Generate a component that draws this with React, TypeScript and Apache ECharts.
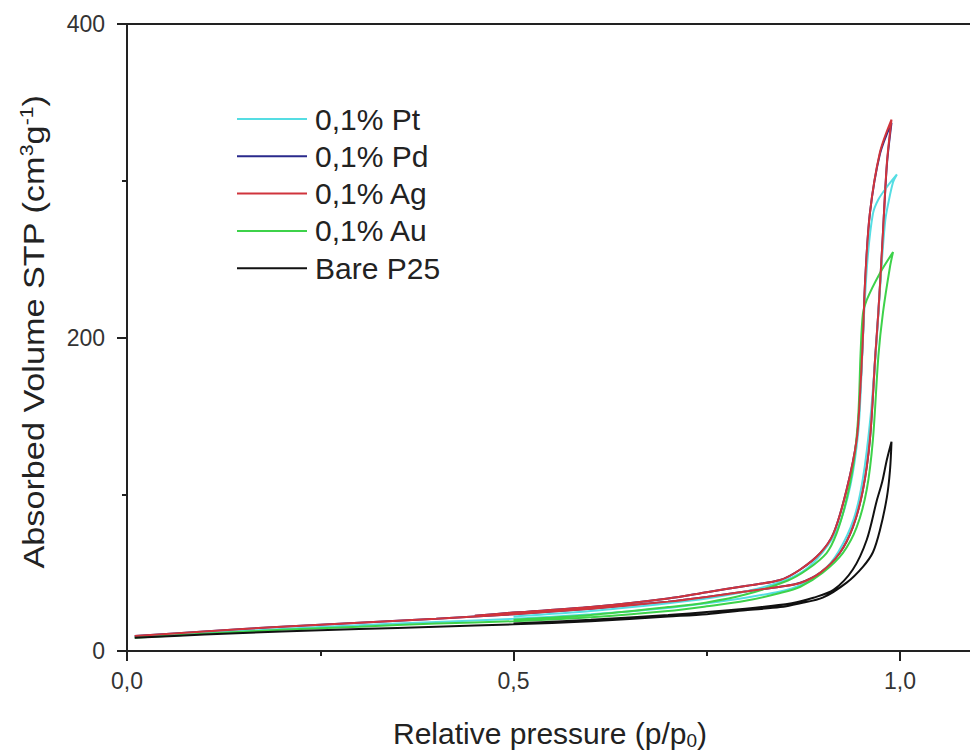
import React, { useEffect, useRef } from "react";
import * as echarts from "echarts";

const seriesNames = ["0,1% Pt", "0,1% Pd", "0,1% Ag", "0,1% Au", "Bare P25"];
const seriesColors = ["#55dde3", "#2a2a8c", "#d0343c", "#3dd24a", "#111111"];

// Each isotherm: adsorption branch up to the peak, then desorption branch back down
const ptData: number[][] = [
  [0.01, 9], [0.1, 11.5], [0.2, 14], [0.3, 16.5], [0.4, 18.5], [0.5, 20.5], [0.6, 23.5], [0.7, 27.5],
  [0.75, 30.5], [0.8, 34], [0.845, 38], [0.871, 42], [0.9, 51], [0.92, 63], [0.94, 84], [0.952, 110],
  [0.962, 150], [0.97, 200], [0.976, 245], [0.981, 275], [0.985, 286], [0.991, 299], [0.996, 304],
  [0.983, 296], [0.972, 288], [0.965, 279], [0.958, 250], [0.953, 210], [0.95, 175], [0.946, 140],
  [0.936, 106], [0.92, 79], [0.9, 63], [0.875, 51], [0.845, 44], [0.8, 38], [0.75, 33.5], [0.7, 30.5],
  [0.6, 25.5], [0.5, 22],
];
const pdData: number[][] = [
  [0.01, 9.5], [0.1, 12.5], [0.2, 15.5], [0.3, 18], [0.4, 20.5], [0.5, 23.5], [0.6, 27], [0.7, 31.5],
  [0.75, 34.5], [0.8, 38], [0.845, 41], [0.871, 43.5], [0.897, 50], [0.922, 62.5], [0.939, 79],
  [0.952, 102.7], [0.961, 134.6], [0.968, 188], [0.972, 216], [0.977, 258], [0.983, 310], [0.989, 337],
  [0.974, 317], [0.961, 279], [0.955, 237], [0.952, 200], [0.949, 170], [0.944, 135], [0.931, 103],
  [0.914, 75], [0.897, 62.5], [0.871, 52], [0.845, 45.3], [0.8, 41.5], [0.75, 37.5], [0.7, 33.5],
  [0.6, 28], [0.5, 24.5], [0.45, 22.5],
];
const agData: number[][] = [
  [0.01, 9.5], [0.1, 12.5], [0.2, 15.5], [0.3, 18], [0.4, 20.5], [0.5, 23.5], [0.6, 27], [0.7, 31.5],
  [0.75, 34.5], [0.8, 38], [0.845, 41], [0.871, 43.4], [0.897, 50], [0.922, 62.5], [0.939, 79],
  [0.952, 102.7], [0.961, 134.6], [0.968, 188], [0.972, 216], [0.977, 258], [0.983, 311], [0.989, 339],
  [0.974, 318], [0.961, 279], [0.955, 237], [0.952, 200], [0.949, 170], [0.944, 135], [0.931, 103],
  [0.914, 75], [0.897, 62.5], [0.871, 52], [0.845, 45.3], [0.8, 41.5], [0.75, 37.5], [0.7, 33.5],
  [0.6, 28], [0.5, 24.5], [0.45, 22.5],
];
const auData: number[][] = [
  [0.01, 8.5], [0.1, 11], [0.2, 13.5], [0.3, 15.5], [0.4, 17.5], [0.5, 19], [0.6, 21.5], [0.7, 25.5],
  [0.75, 28.5], [0.8, 32], [0.845, 37], [0.871, 41], [0.9, 50], [0.926, 62.5], [0.944, 79], [0.957, 103],
  [0.965, 135], [0.972, 188], [0.978, 216], [0.987, 245], [0.991, 254.5],
  [0.974, 241], [0.957, 224], [0.952, 215], [0.949, 190], [0.946, 150], [0.94, 120], [0.93, 95],
  [0.918, 75], [0.905, 62.5], [0.88, 52], [0.855, 45], [0.8, 36], [0.75, 31], [0.7, 28], [0.6, 23],
  [0.5, 20],
];
const bareData: number[][] = [
  [0.01, 8.5], [0.1, 10.5], [0.2, 12.5], [0.3, 14], [0.4, 15.5], [0.5, 17], [0.6, 19], [0.7, 22],
  [0.75, 23.5], [0.8, 26], [0.845, 28], [0.871, 30.5], [0.9, 34], [0.931, 43.6], [0.952, 53.7],
  [0.965, 63], [0.974, 77], [0.983, 98], [0.987, 115], [0.989, 133.5],
  [0.983, 122], [0.977, 108], [0.97, 96], [0.957, 71], [0.939, 52], [0.914, 39], [0.888, 34],
  [0.86, 30.5], [0.8, 27], [0.7, 23], [0.6, 20], [0.5, 17.5],
];

const xTicks = [0, 0.5, 1.0];
const yTicks = [0, 200, 400];

const FONT = "'Liberation Sans', Arial, sans-serif";

export default function App() {
  const ref = useRef<HTMLDivElement>(null);
  useEffect(() => {
    if (!ref.current) return;
    const chart = echarts.init(ref.current, null, { renderer: "svg" });
    const dataSets = [ptData, pdData, agData, auData, bareData];
    const drawOrder = [1, 0, 3, 2, 4];
    const series = drawOrder.map((i, k) => ({
      name: seriesNames[i],
      type: "line",
      data: dataSets[i],
      showSymbol: false,
      symbol: "none",
      smooth: 0.3,
      z: 2 + k,
      lineStyle: { color: seriesColors[i], width: 2 },
      itemStyle: { color: seriesColors[i] },
    }));
    chart.setOption({
      animation: false,
      backgroundColor: "#ffffff",
      textStyle: { fontFamily: FONT },
      // the x axis runs on to 1.5, past the right edge of the visible picture (cut at ~1.09 as in the reference)
      grid: { left: 127, top: 24, width: 1159.5, height: 627 },
      legend: {
        orient: "vertical",
        left: 237,
        top: 104,
        padding: 0,
        itemWidth: 70,
        itemHeight: 14,
        itemGap: 7.3,
        icon: "path://M0,6 L70,6 L70,8 L0,8 Z",
        data: seriesNames,
        textStyle: { fontSize: 30, color: "#222", lineHeight: 30, fontFamily: FONT, padding: [0, 0, 0, 3] },
      },
      graphic: [
        {
          type: "text",
          x: 34,
          y: 332,
          rotation: Math.PI / 2,
          scaleX: 1.18,
          scaleY: 1,
          silent: true,
          style: {
            text: "{a|Absorbed Volume STP (cm}{u|3}{a|g}{u|-1}{a|)}",
            align: "center",
            verticalAlign: "middle",
            rich: {
              a: { fontSize: 29, fill: "#222", fontFamily: FONT, lineHeight: 32 },
              u: { fontSize: 18, fill: "#222", fontFamily: FONT, lineHeight: 18, verticalAlign: "top" },
            },
          },
        },
        {
          type: "text",
          x: 550,
          y: 733,
          silent: true,
          style: {
            text: "{a|Relative pressure (p/p}{s|0}{a|)}",
            align: "center",
            verticalAlign: "middle",
            rich: {
              a: { fontSize: 30, fill: "#222", fontFamily: FONT, lineHeight: 34 },
              s: { fontSize: 19, fill: "#222", fontFamily: FONT, lineHeight: 19, verticalAlign: "bottom", padding: [16, 0, 0, 0] },
            },
          },
        },
      ],
      xAxis: [
        {
          type: "value",
          min: 0,
          max: 1.5,
          interval: 0.5,
          axisLine: { show: true, lineStyle: { color: "#222", width: 2 } },
          axisTick: { show: true, inside: false, length: 10, lineStyle: { color: "#222", width: 2 } },
          minorTick: { show: true, splitNumber: 2, length: 5, lineStyle: { color: "#222", width: 2 } },
          splitLine: { show: false },
          axisLabel: {
            fontSize: 23,
            color: "#333",
            margin: 18,
            fontFamily: FONT,
            formatter: (v: number) => (xTicks.includes(v) ? v.toFixed(1).replace(".", ",") : ""),
          },
        },
        {
          type: "value",
          position: "top",
          min: 0,
          max: 1.5,
          axisLine: { show: true, lineStyle: { color: "#222", width: 2 } },
          axisTick: { show: false },
          axisLabel: { show: false },
          splitLine: { show: false },
        },
      ],
      yAxis: {
        type: "value",
        min: 0,
        max: 400,
        interval: 200,
        axisLine: { show: true, lineStyle: { color: "#222", width: 2 } },
        axisTick: { show: true, inside: false, length: 10, lineStyle: { color: "#222", width: 2 } },
        minorTick: { show: true, splitNumber: 2, length: 5, lineStyle: { color: "#222", width: 2 } },
        splitLine: { show: false },
        axisLabel: {
          fontSize: 23,
          color: "#333",
          margin: 22,
          fontFamily: FONT,
          formatter: (v: number) => (yTicks.includes(v) ? String(v) : ""),
        },
      },
      series,
    });
    return () => chart.dispose();
  }, []);
  return (
    <div
      style={{ position: "fixed", left: 0, top: 0, width: 970, height: 756, overflow: "hidden", background: "#fff" }}
    >
      <div ref={ref} style={{ position: "absolute", left: 0, top: 0, width: 1300, height: 756 }} />
    </div>
  );
}
